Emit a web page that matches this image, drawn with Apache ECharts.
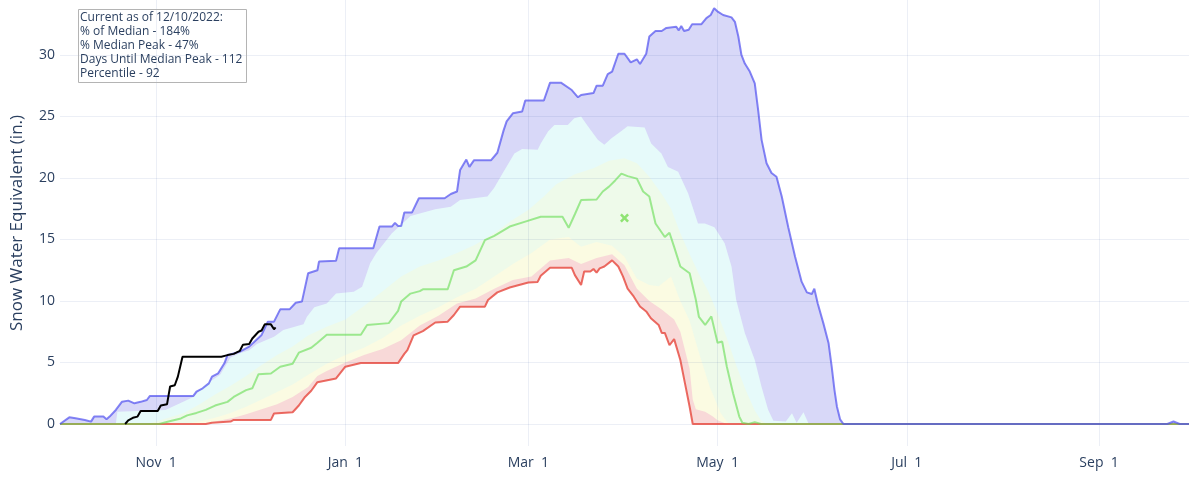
<!DOCTYPE html>
<html>
<head>
<meta charset="utf-8">
<script src="https://cdn.jsdelivr.net/npm/echarts@6/dist/echarts.min.js"></script>
<style>
html,body{margin:0;padding:0;background:#ffffff;}
#chart{width:1200px;height:477px;}
</style>
</head>
<body>
<div id="chart"></div>
<script>
// x = days since Oct 1 of the water year, y = snow water equivalent (in.)
const tickDays = [31, 92, 151, 212, 273, 335];
const tickLabels = ['Nov  1', 'Jan  1', 'Mar  1', 'May  1', 'Jul  1', 'Sep  1'];
const yTicks = [0, 5, 10, 15, 20, 25, 30];

const annotationLines = [
  'Current as of 12/10/2022:',
  '% of Median - 184%',
  '% Median Peak - 47%',
  'Days Until Median Peak - 112',
  'Percentile - 92'
];

const maxSWE = [[0,0],[3,0.54],[5,0.46],[8,0.33],[10,0.19],[11,0.6],[14,0.6],[15,0.38],[16,0.6],[18,1.14],[20,1.81],[22,1.9],[24,1.68],[26,1.8],[28,1.95],[29,2.28],[43,2.28],[44,2.63],[46,2.9],[48,3.3],[49,3.85],[51,4.12],[53,4.93],[54,5.6],[58,5.88],[61,6.29],[65,7.24],[67,8.32],[69,8.32],[71,9.32],[74,9.32],[76,9.86],[78,9.95],[80,12.25],[83,12.5],[83.5,13.2],[89,13.28],[90,14.28],[101,14.28],[103,16.05],[107,16.05],[108,16.35],[109,16.1],[110,16.1],[111,17.2],[113.5,17.2],[115.7,18.35],[124,18.35],[126,18.7],[128,18.9],[129,20.65],[131,21.5],[132,20.9],[133.5,21.45],[139,21.45],[141,22.05],[143,23.85],[144,24.6],[146,25.26],[149,25.4],[150,26.3],[156,26.3],[158,27.75],[161.5,27.75],[165,27.15],[167,26.56],[168,26.75],[172,26.9],[173,27.5],[175,27.5],[176.6,28.45],[178,28.65],[180,30.1],[182,30.1],[184,29.4],[186,29.65],[187,29.27],[189,30.1],[190,31.5],[192,31.95],[194,31.95],[195.5,32.2],[198.7,32.3],[199.5,32.0],[200.3,32.36],[201.2,31.95],[202.7,32.05],[203.8,32.5],[206.8,32.5],[208.4,33.0],[209.8,33.25],[210.9,33.8],[212.2,33.5],[213.8,33.25],[216.5,33.06],[217.6,32.7],[218.7,31.5],[219.7,30.0],[220.8,29.3],[222.4,28.65],[224,27.7],[225.1,25.5],[226.2,23.1],[227.8,21.2],[229.4,20.4],[231,20.1],[232.7,18.5],[234.8,16.0],[237,13.6],[239.1,11.57],[240.8,10.7],[242.4,10.57],[243.2,11.0],[244.3,9.8],[246.1,8.2],[247.8,6.56],[248.8,4.66],[249.7,2.76],[250.5,1.4],[251.5,0.38],[252.6,0],[357,0],[359,0.2],[361,0],[364,0]];

const p90SWE = [[0,0],[18,0],[18.5,1.0],[25,1.05],[34,1.14],[38,1.6],[43,2.2],[45,2.7],[47,3.2],[51.6,4.0],[55,5.4],[58,5.75],[61,6.0],[63.5,6.5],[69,7.1],[72,7.64],[78.5,8.1],[79.6,8.72],[82,9.5],[86,9.8],[89,10.6],[94.7,10.76],[97.4,11.16],[100,13.06],[102,13.9],[107,15.5],[113,16.9],[121,17.45],[126,17.67],[129,18.2],[137.8,18.5],[140,19.2],[143,20.5],[146.5,22.0],[149,22.35],[154,22.3],[155,22.8],[157.4,23.8],[159.4,24.3],[163.7,24.3],[165.8,24.85],[168,25.0],[170.2,24.2],[173.4,23.1],[175.5,22.7],[177.7,23.2],[180.9,23.8],[183,24.2],[188.5,24.1],[190.6,22.8],[193.9,22.0],[196,20.9],[199.3,20.5],[202.5,18.75],[205.7,16.3],[207.9,16.3],[211,16.0],[214.3,14.7],[216.5,12.8],[218,10.1],[220.8,7.4],[224,5.2],[226.2,3.0],[228.3,1.15],[230,0.27],[234,0.2],[236,0.87],[237.5,0.1],[239.7,0.95],[241.4,0],[364,0]];

const p70SWE = [[0,0],[28,0],[31,0.2],[35,0.5],[40,0.9],[45,1.6],[50,2.4],[55,3.1],[60,3.9],[65,4.8],[70,5.6],[75,6.3],[80,7.2],[86,7.9],[92,8.5],[98,9.6],[104,10.8],[110,12.0],[116,12.8],[122,13.3],[128,13.9],[134,14.6],[140,15.5],[146,16.6],[151,17.4],[156,18.5],[160,19.5],[166,20.3],[172,20.8],[177,21.4],[182,21.6],[186,21.2],[190,20.1],[194,18.7],[197,17.5],[200,15.5],[203,13.8],[206,12.2],[209,10.8],[212,9.0],[215,7.0],[218,4.8],[221,2.8],[224,1.1],[226,0.3],[228,0],[364,0]];

const p30SWE = [[0,0],[40,0],[45,0.2],[50,0.5],[55,0.9],[60,1.4],[65,2.0],[70,2.6],[75,3.2],[80,4.0],[86,4.9],[92,5.6],[98,6.2],[104,7.0],[110,8.0],[116,8.8],[122,9.5],[128,10.3],[134,11.0],[140,12.0],[146,13.0],[152,13.9],[158,15.0],[164,15.2],[168,14.4],[173,14.8],[178,14.5],[182,13.6],[186,11.8],[190,11.3],[193,11.2],[197,12.0],[200,10.0],[203,8.4],[206,5.8],[209.5,3.0],[213,0.9],[215,0.2],[216,0],[364,0]];

const p10SWE = [[0,0],[45,0],[48,0.1],[52,0.3],[56,0.5],[60,0.8],[65,1.2],[70,1.6],[75,2.2],[80,3.0],[83,3.9],[86,4.3],[92,5.0],[98,5.6],[104,6.1],[110,6.8],[116,8.0],[122,8.8],[128,9.8],[134,10.2],[140,11.0],[146,11.7],[152,12.0],[158,13.3],[164,13.5],[168,13.0],[173,13.5],[178,13.8],[182,12.9],[186,11.0],[190,10.0],[194,9.3],[198,8.5],[200,7.5],[202,5.5],[203,4.5],[204,2.0],[205,1.2],[208,1.0],[210.5,0.6],[212,0.3],[214,0.1],[215,0],[364,0]];

const minSWE = [[0,0],[47,0],[49,0.1],[55,0.2],[56,0.33],[68,0.33],[69,0.85],[75,0.95],[77,1.5],[79,2.2],[81,2.7],[83,3.4],[89,3.7],[92,4.66],[97,4.95],[109,4.95],[111,5.7],[112,6.0],[114,7.2],[117,7.55],[121,8.25],[125,8.32],[127,8.86],[129,9.54],[137,9.54],[138,10.08],[141,10.7],[145,11.1],[151,11.5],[154,11.55],[155,12.05],[158,12.7],[165,12.7],[166,12.1],[168,11.3],[169,12.4],[171,12.4],[172,12.6],[173,12.3],[174,12.65],[175.5,12.8],[178,13.3],[180,12.8],[181.5,12.0],[183,11.0],[185,10.35],[187,9.55],[189,9.15],[190.5,8.6],[193,8.05],[194,7.4],[195,7.4],[196.5,6.4],[198,6.9],[200,5.2],[201.5,3.3],[203,1.4],[204,0],[364,0]];

const medianSWE = [[0,0],[32,0],[35,0.2],[39,0.45],[41,0.7],[44,0.9],[47,1.15],[50,1.5],[54,1.8],[56,2.2],[60,2.75],[62,2.9],[64,4.05],[68,4.1],[71,4.65],[75,4.9],[77,5.8],[81,6.2],[83,6.6],[86,7.25],[97,7.25],[99,8.05],[106,8.2],[109,9.2],[110,9.95],[113,10.6],[116,10.8],[117,10.95],[125,10.95],[127,12.5],[131,12.8],[134,13.3],[137,14.95],[140,15.3],[145,16.05],[150,16.45],[155,16.85],[162,16.85],[164,15.95],[166,17.05],[168,18.2],[173,18.25],[175,18.9],[177,19.3],[179,19.8],[181,20.35],[183,20.15],[186,19.95],[188,18.9],[190,18.5],[192,16.3],[195,15.2],[196.5,15.55],[198,14.4],[200,12.8],[203,12.25],[205,10.1],[206,8.7],[208,8.05],[210,8.75],[212,6.6],[213.5,6.7],[215,4.65],[217,2.5],[219,0.6],[220,0.1],[222,0],[224,0.15],[226,0],[364,0]];

const currentSWE = [[21,0],[22,0.3],[23.5,0.5],[25,0.6],[26,1.05],[31.5,1.05],[32.5,1.5],[34.5,1.6],[35.5,3.05],[37,3.15],[38,3.85],[39.5,5.47],[52,5.47],[54,5.6],[56,5.7],[58,5.95],[59,6.45],[61,6.5],[62,6.95],[64,7.5],[65,7.6],[66,8.1],[68,8.1],[69,7.7],[69.5,7.85]];

const medianPeak = [[182, 16.75]];

const FONT = '"Open Sans", "Noto Sans", Verdana, Arial, sans-serif';
const TXT = '#2a3f5f';
const GRID = 'rgba(40,80,160,0.09)';

function fill(data, color) {
  return {
    type: 'line', data: data, symbol: 'none', silent: true, z: 1,
    lineStyle: { width: 0, opacity: 0 },
    areaStyle: { color: color, opacity: 1 }
  };
}
function line(data, color, z) {
  return {
    type: 'line', data: data, symbol: 'none', silent: true, z: z,
    lineStyle: { width: 2, color: color }
  };
}

const chart = echarts.init(document.getElementById('chart'), null, { renderer: 'canvas' });
chart.setOption({
  animation: false,
  backgroundColor: '#ffffff',
  textStyle: { fontFamily: FONT },
  title: {
    text: annotationLines.join('\n'),
    left: 78, top: 9,
    borderColor: '#b4b4b4', borderWidth: 1,
    padding: [2, 4, 2, 2],
    textStyle: { fontFamily: FONT, fontSize: 12, fontWeight: 'normal', color: TXT, lineHeight: 14 }
  },
  grid: { left: 60, right: 11, top: 0, bottom: 31, containLabel: false, outerBoundsMode: 'none' },
  xAxis: {
    type: 'value', min: 0, max: 364, z: 3,
    axisLine: { show: false },
    axisTick: { show: false, customValues: tickDays },
    axisLabel: {
      customValues: tickDays, margin: 10, fontSize: 14, color: TXT, fontFamily: FONT,
      formatter: function (v) { const i = tickDays.indexOf(v); return i >= 0 ? tickLabels[i] : ''; }
    },
    splitLine: { show: true, lineStyle: { color: GRID, width: 1 } }
  },
  yAxis: {
    type: 'value', min: -1.79, max: 34.47, z: 3,
    name: 'Snow Water Equivalent (in.)',
    nameLocation: 'middle', nameGap: 34,
    nameTextStyle: { fontSize: 17, color: TXT, fontFamily: FONT },
    axisLine: { show: false },
    axisTick: { show: false, customValues: yTicks },
    axisLabel: { customValues: yTicks, margin: 5, fontSize: 14, color: TXT, fontFamily: FONT },
    splitLine: { show: true, lineStyle: { color: GRID, width: 1 } }
  },
  series: [
    fill(maxSWE, '#d8d8f8'),
    fill(p90SWE, '#e6fafa'),
    fill(p70SWE, '#eefaea'),
    fill(p30SWE, '#fbfbe2'),
    fill(p10SWE, '#f8d9d8'),
    fill(minSWE, '#ffffff'),
    line(minSWE, 'rgba(230,70,60,0.8)', 5),
    line(medianSWE, 'rgba(100,220,80,0.6)', 6),
    line(maxSWE, 'rgba(80,80,240,0.7)', 7),
    line(currentSWE, '#000000', 8),
    {
      type: 'scatter', data: medianPeak, silent: true, z: 9,
      symbol: 'path://M2,0 L5,3 L8,0 L10,2 L7,5 L10,8 L8,10 L5,7 L2,10 L0,8 L3,5 L0,2 Z',
      symbolSize: 9,
      itemStyle: { color: '#77dd55' }
    }
  ]
});
</script>
</body>
</html>
